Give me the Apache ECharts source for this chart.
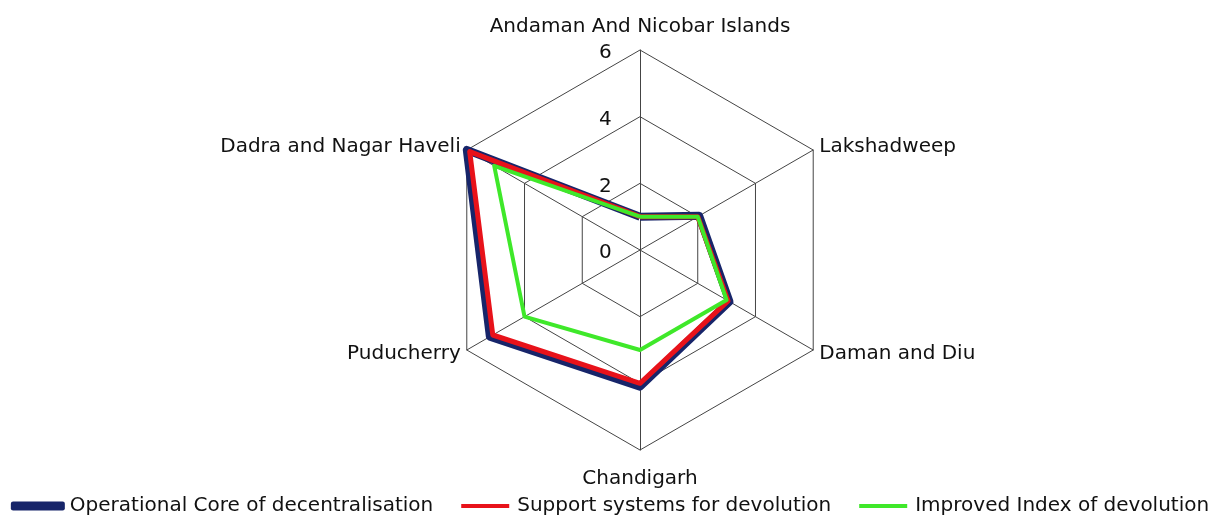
<!DOCTYPE html>
<html>
<head>
<meta charset="utf-8">
<script src="https://cdn.jsdelivr.net/npm/echarts@6/dist/echarts.min.js"></script>
<style>
  html, body { margin: 0; padding: 0; background: #fff; }
  #chart { width: 1220px; height: 518px; }
</style>
</head>
<body>
<div id="chart"></div>
<script>
// indicators go counterclockwise from the top
var territories = ['Andaman And Nicobar Islands', 'Dadra and Nagar Haveli', 'Puducherry', 'Chandigarh', 'Daman and Diu', 'Lakshadweep'];
var operationalCore = [1.0, 6.0, 5.2, 4.1, 3.1, 2.05];
var supportSystems = [1.0, 5.9, 5.1, 4.0, 3.05, 2.0];
var improvedIndex = [1.0, 5.05, 4.0, 3.0, 3.0, 2.0];
var seriesNames = ['Operational Core of decentralisation', 'Support systems for devolution', 'Improved Index of devolution'];
var tickLabels = ['0', '2', '4', '6'];

var myChart = echarts.init(document.getElementById('chart'));

var font = 'DejaVu Sans';
var thinBar = 'path://M0,0M48,9M0,2.5h48v4h-48z';

var option = {
  animation: false,
  textStyle: { fontFamily: font },
  legend: {
    bottom: -3,
    left: 'center',
    itemGap: 28,
    itemWidth: 54,
    itemHeight: 9,
    icon: 'roundRect',
    textStyle: { fontSize: 20, color: '#111', fontFamily: font },
    data: [
      { name: seriesNames[0], icon: 'roundRect' },
      { name: seriesNames[1], icon: thinBar },
      { name: seriesNames[2], icon: thinBar }
    ]
  },
  radar: {
    center: [640, 250],
    radius: 200,
    startAngle: 90,
    splitNumber: 3,
    shape: 'polygon',
    nameGap: 7,
    axisName: { color: '#111', fontSize: 20, fontFamily: font, padding: [12, 0, 6, 0] },
    indicator: territories.map(function (t) { return { name: t, min: 0, max: 6 }; }),
    axisLine: { lineStyle: { color: '#444', width: 1 } },
    splitLine: { lineStyle: { color: '#444', width: 1 } },
    splitArea: { show: false },
    axisTick: { show: false },
    axisLabel: { show: false }
  },
  series: [{
    type: 'radar',
    symbol: 'none',
    data: [
      { name: seriesNames[0], value: operationalCore, lineStyle: { color: '#17256a', width: 8 }, itemStyle: { color: '#17256a' } },
      { name: seriesNames[1], value: supportSystems, lineStyle: { color: '#e8121a', width: 5 }, itemStyle: { color: '#e8121a' } },
      { name: seriesNames[2], value: improvedIndex, lineStyle: { color: '#3fe82a', width: 4 }, itemStyle: { color: '#3fe82a' } }
    ]
  }]
};

myChart.setOption(option);

// tick labels beside the top axis, placed through the radar's own mapping
var radar = myChart.getModel().getComponent('radar').coordinateSystem;
var g = tickLabels.map(function (t) {
  var p = radar.dataToPoint(Number(t), 0);
  return {
    type: 'text',
    x: p[0] - 41,
    y: p[1] - 7,
    style: { text: t, fill: '#111', font: '20px ' + font }
  };
});
myChart.setOption({ graphic: g });
</script>
</body>
</html>
